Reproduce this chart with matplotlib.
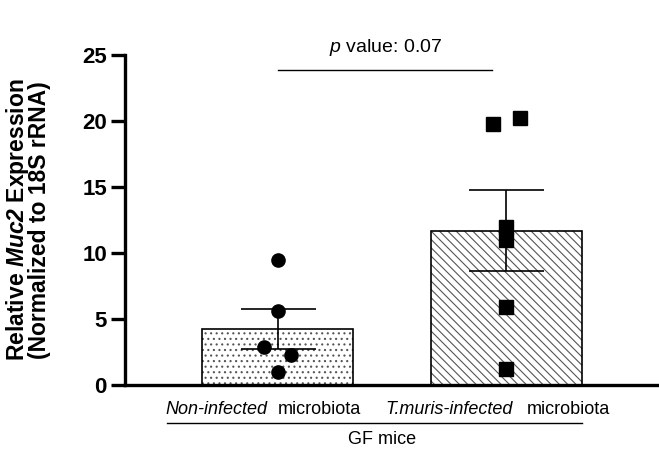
import numpy as np
import matplotlib.pyplot as plt

plt.rcParams['font.family'] = ['Liberation Sans', 'DejaVu Sans']
plt.rcParams['mathtext.fontset'] = 'custom'
plt.rcParams['mathtext.rm'] = 'Liberation Sans'
plt.rcParams['mathtext.it'] = 'Liberation Sans:italic'
plt.rcParams['mathtext.bf'] = 'Liberation Sans:bold'
plt.rcParams['mathtext.bfit'] = 'Liberation Sans:italic:bold'
plt.rcParams['hatch.linewidth'] = 0.8

# Muc2 expression per mouse, relative to 18S rRNA
non_infected = [9.5, 5.6, 2.9, 2.3, 1.0]
tmuris_infected = [19.8, 20.2, 12.0, 11.0, 5.9, 1.2]
groups = [non_infected, tmuris_infected]
group_names = ['Non-infected', 'T.muris-infected']
p_text = '0.07'
y_ticks = [0, 5, 10, 15, 20, 25]

# horizontal spread of the points so overlapping ones stay visible
spread = [[0, 0, -0.06, 0.06, 0],
          [-0.06, 0.06, 0, 0, 0, 0]]

means = [np.mean(g) for g in groups]
sems = [np.std(g, ddof=1) / np.sqrt(len(g)) for g in groups]

fig = plt.figure(figsize=(6.59, 4.57), dpi=100)
ax = fig.add_axes([125 / 659, 72 / 457, 1 - 125 / 659, 330 / 457])

xpos = [0, 1]
hatches = ['...', '\\\\\\\\']
markers = ['o', 's']
for i in range(2):
    ax.bar(xpos[i], means[i], width=0.66, color='white', edgecolor='#555555',
           hatch=hatches[i], linewidth=0, zorder=1)
    ax.bar(xpos[i], means[i], width=0.66, color='none', edgecolor='black',
           linewidth=1.2, zorder=2)
    ax.errorbar(xpos[i], means[i], yerr=sems[i], color='black', lw=1.2,
                capsize=27, capthick=1.2, zorder=3)
    ax.plot(np.array(spread[i]) + xpos[i], groups[i], linestyle='none',
            marker=markers[i], markersize=9.5, color='black', zorder=4)

ax.set_xlim(-0.666, 1.666)
ax.set_ylim(0, 25)
ax.set_yticks(y_ticks)
ax.set_yticklabels([str(t) for t in y_ticks], fontsize=16, fontweight='bold')
ax.set_xticks([])
ax.tick_params(axis='y', length=10, width=2.4, direction='out', pad=3)
for side in ['top', 'right']:
    ax.spines[side].set_visible(False)
for side in ['left', 'bottom']:
    ax.spines[side].set_linewidth(2.4)
ax.spines['left'].set_bounds(0, 25)

fig.text(27.5 / 659, 1 - 220 / 457,
         r'$\mathbf{Relative\ }\mathbfit{Muc2}\mathbf{\ Expression}$'
         '\n(Normalized to 18S rRNA)',
         rotation=90, rotation_mode='anchor', ha='center', va='center',
         fontsize=16.5, fontweight='bold', linespacing=0.8)

# significance bracket
ax.plot([0.002, 0.937], [23.9, 23.9], color='black', lw=1.0, clip_on=False)
ax.text(0.47, 25.6, r'$\it{p}$ value: ' + p_text, ha='center', va='center',
        fontsize=14, clip_on=False)

# group labels under the axis: italic name, then "microbiota"
trans = ax.get_xaxis_transform()
name_right = [-0.046, 1.028]
word_left = [0.002, 1.09]
for i in range(2):
    ax.text(name_right[i], -0.048, group_names[i], transform=trans,
            ha='right', va='top', fontsize=13, style='italic')
    ax.text(word_left[i], -0.048, 'microbiota', transform=trans,
            ha='left', va='top', fontsize=13)
ax.plot([-0.483, 1.33], [-0.115, -0.115], color='black', lw=1.0,
        transform=trans, clip_on=False)
ax.text(0.456, -0.14, 'GF mice', transform=trans, ha='center', va='top',
        fontsize=13)

fig.savefig('out.png', dpi=100)
